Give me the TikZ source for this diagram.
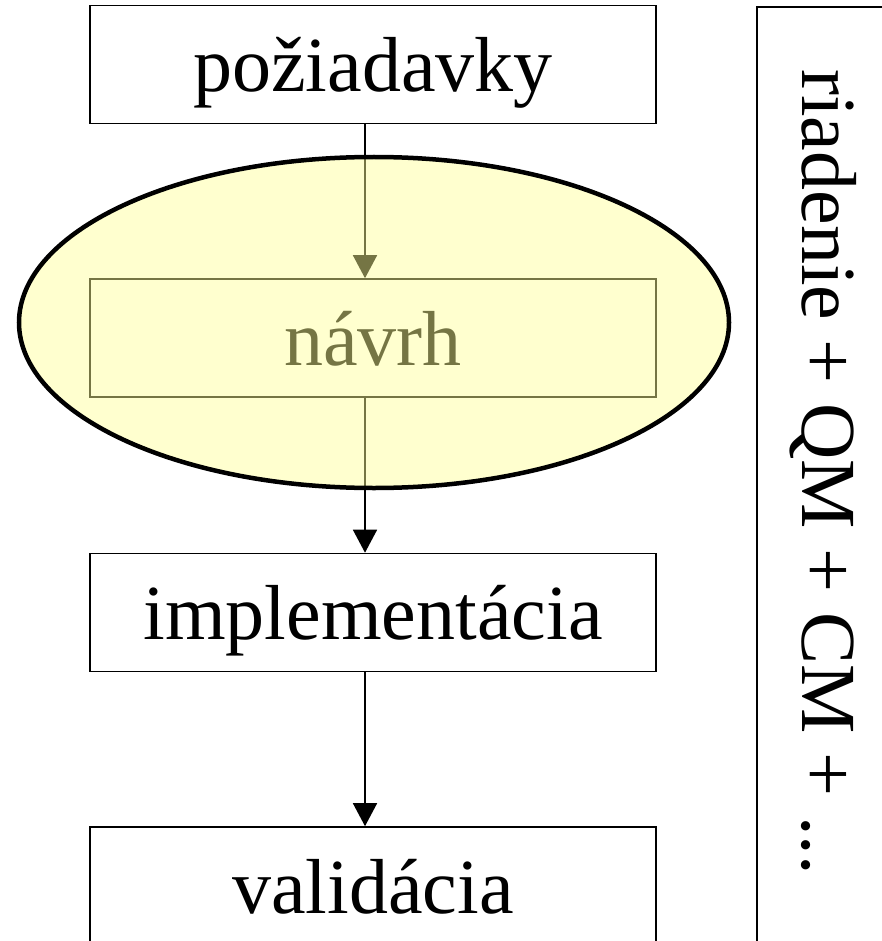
\documentclass[tikz,border=0pt]{standalone}
\usepackage{fontspec}
\setmainfont{Liberation Serif}
\usetikzlibrary{arrows.meta,shapes.geometric}
\definecolor{ellfill}{RGB}{255,255,150}
\begin{document}
\begin{tikzpicture}[x=1pt,y=-1pt,
  bigfont/.style={font=\fontsize{78}{90}\selectfont},
  stepbox/.style={draw=black, line width=1.6pt, minimum width=566pt, minimum height=118pt,
    inner sep=0pt, text height=70pt, text depth=15.6pt, bigfont},
  flow/.style={line width=1.6pt, -{Triangle[length=23pt,width=24pt]}},
  overlay ellipse/.style={ellipse, minimum width=710pt, minimum height=331pt, inner sep=0pt,
    fill=ellfill, fill opacity=0.46, draw=black, draw opacity=1, line width=4.5pt},
  sidebox/.style={draw=black, line width=1.6pt, anchor=north west, minimum width=160pt,
    minimum height=980pt, inner sep=0pt}]
\useasboundingbox (0,0) rectangle (882,941);
\node[stepbox] (poz) at (373,64.5) {požiadavky};
\node[stepbox] (nav) at (373,338) {návrh};
\node[stepbox] (imp) at (373,612.5) {implementácia};
\node[stepbox] (val) at (373,886) {validácia};
\draw[flow] ([xshift=-8pt]poz.south) -- ([xshift=-8pt]nav.north);
\draw[flow] ([xshift=-8pt]nav.south) -- ([xshift=-8pt]imp.north);
\draw[flow] ([xshift=-8pt]imp.south) -- ([xshift=-8pt]val.north);
\node[overlay ellipse] (ell) at (374,322.5) {};
\node[sidebox] (side) at (756,6) {};
\node[bigfont, rotate=-90, anchor=base, inner sep=0pt] (lbl) at (802,472) {riadenie + QM + CM + ...};
\end{tikzpicture}
\end{document}
